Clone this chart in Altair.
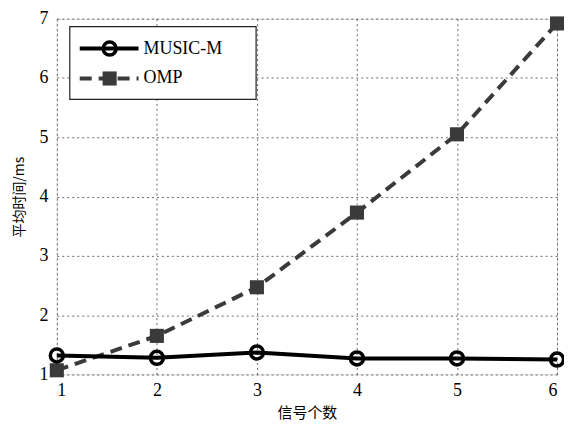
import altair as alt
import pandas as pd

x_vals = [1, 2, 3, 4, 5, 6]
music_m = [1.32, 1.28, 1.37, 1.27, 1.27, 1.25]
omp = [1.07, 1.65, 2.47, 3.73, 5.05, 6.92]
series_names = ["MUSIC-M", "OMP"]

df = pd.DataFrame({
    "x": x_vals * 2,
    "y": music_m + omp,
    "s": [series_names[0]] * 6 + [series_names[1]] * 6,
})

serif = "Liberation Serif"
cjk = "Noto Sans CJK SC"

xs = alt.Scale(domain=[1, 6], nice=False)
ys = alt.Scale(domain=[1, 7], nice=False)

xax = alt.Axis(values=x_vals, format="d", grid=True, gridDash=[2, 3], gridColor="#444", gridOpacity=0.8,
               tickSize=0, labelFont=serif, labelFontSize=18, labelColor="black",
               labelPadding=7, domain=False, title="信号个数", titleFont=cjk,
               titleFontSize=15, titleFontWeight="normal", titleColor="black", titlePadding=6)
yax = alt.Axis(values=[1, 2, 3, 4, 5, 6, 7], format="d", grid=True, gridDash=[2, 3], gridColor="#444",
               gridOpacity=0.8, tickSize=0, labelFont=serif, labelFontSize=18,
               labelColor="black", labelPadding=9, domain=False, title="平均时间/ms",
               titleFont=cjk, titleFontSize=14, titleFontWeight="normal",
               titleColor="black", titlePadding=12)

base = alt.Chart(df)

m_line = base.transform_filter(alt.datum.s == "MUSIC-M").mark_line(
    color="black", strokeWidth=4).encode(
    x=alt.X("x:Q", scale=xs, axis=xax), y=alt.Y("y:Q", scale=ys, axis=yax))
m_pts = base.transform_filter(alt.datum.s == "MUSIC-M").mark_point(
    shape="circle", size=170, filled=False, stroke="black", strokeWidth=3.5, opacity=1).encode(
    x=alt.X("x:Q", scale=xs), y=alt.Y("y:Q", scale=ys))
o_line = base.transform_filter(alt.datum.s == "OMP").mark_line(
    color="#3a3a3a", strokeWidth=4, strokeDash=[12, 7]).encode(
    x=alt.X("x:Q", scale=xs), y=alt.Y("y:Q", scale=ys))
o_pts = base.transform_filter(alt.datum.s == "OMP").mark_point(
    shape="square", size=200, filled=True, color="#3a3a3a", opacity=1).encode(
    x=alt.X("x:Q", scale=xs), y=alt.Y("y:Q", scale=ys))

# legend
leg_box = alt.Chart(pd.DataFrame({"a": [0]})).mark_rect(
    fill="white", stroke="#222", strokeWidth=1.2).encode(
    x=alt.value(13), x2=alt.value(200), y=alt.value(8), y2=alt.value(81))
leg_df = pd.DataFrame({"name": series_names, "yy": [30, 60]})
leg_l1 = alt.Chart(leg_df.iloc[[0]]).mark_rule(color="black", strokeWidth=4).encode(
    x=alt.value(23), x2=alt.value(82), y=alt.value(30))
leg_l2 = alt.Chart(leg_df.iloc[[1]]).mark_rule(color="#3a3a3a", strokeWidth=4,
                                               strokeDash=[12, 7]).encode(
    x=alt.value(23), x2=alt.value(82), y=alt.value(60))
leg_p1 = alt.Chart(leg_df.iloc[[0]]).mark_point(shape="circle", size=170, filled=False,
                                                stroke="black", strokeWidth=3.5, opacity=1).encode(
    x=alt.value(53), y=alt.value(30))
leg_p2 = alt.Chart(leg_df.iloc[[1]]).mark_point(shape="square", size=200, filled=True,
                                                color="#3a3a3a", opacity=1).encode(
    x=alt.value(53), y=alt.value(60))
leg_t = alt.Chart(leg_df).mark_text(align="left", baseline="middle", font=serif,
                                    fontSize=18, color="black").encode(
    x=alt.value(87), y=alt.Y("yy:Q", scale=None), text="name:N")

chart = alt.layer(o_line, m_line, o_pts, m_pts, leg_box, leg_l1, leg_l2, leg_p1, leg_p2, leg_t).properties(
    width=502, height=357,
    autosize=alt.AutoSizeParams(type="none"),
    padding={"left": 49, "top": 10, "right": 7, "bottom": 46},
).configure_view(stroke="#444", strokeWidth=1.2).configure(background="white")

chart.save("out.html", embed_options={"renderer": "svg", "actions": False})
